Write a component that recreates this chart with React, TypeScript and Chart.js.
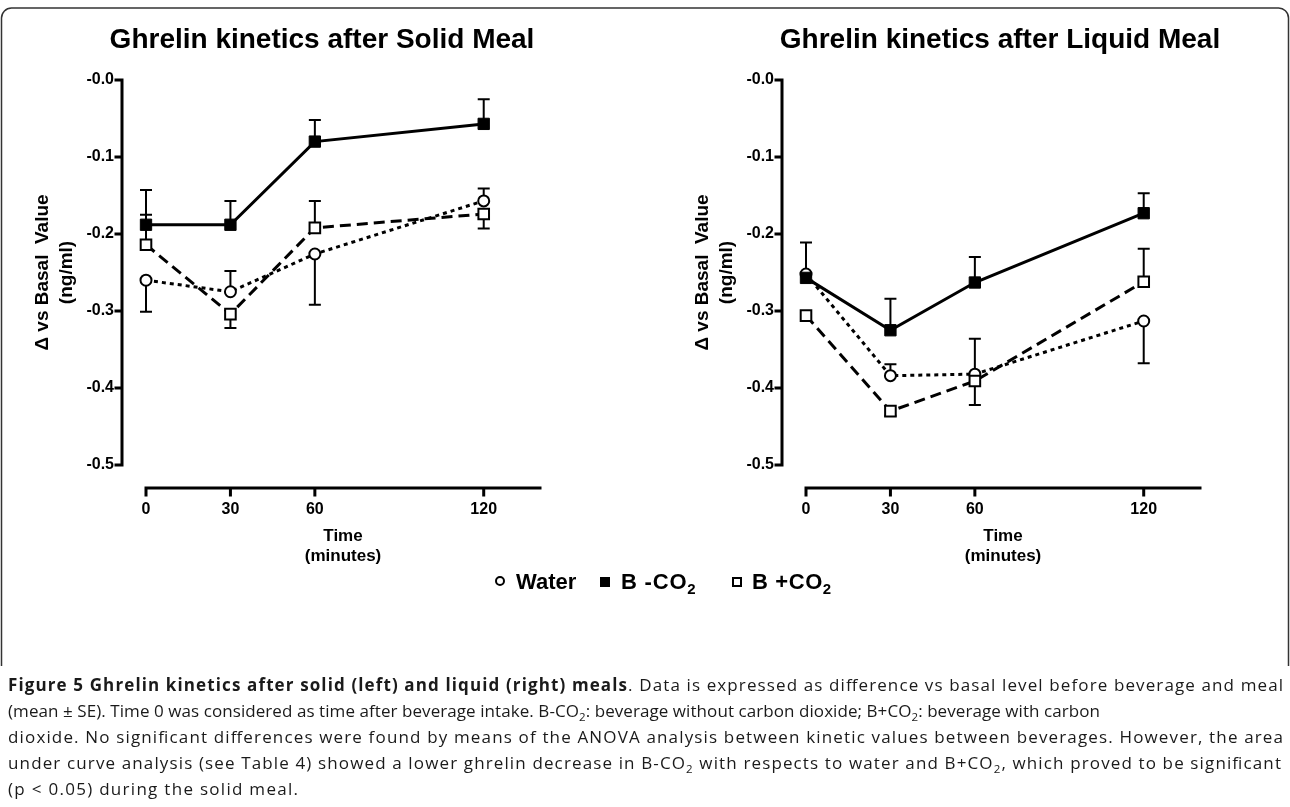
import React, { useEffect, useRef } from "react";
import { Chart, registerables } from "chart.js";

Chart.register(...registerables);

// ---- data ----
const times = [0, 30, 60, 120];
const xTicks = [0, 30, 60, 120];
const yTicks = [0, -0.1, -0.2, -0.3, -0.4, -0.5];

const solidWater = [-0.26, -0.275, -0.226, -0.157];
const solidWaterErr = [-0.301, -0.248, -0.292, -0.141];
const solidBNoCO2 = [-0.188, -0.188, -0.08, -0.057];
const solidBNoCO2Err = [-0.143, -0.157, -0.052, -0.025];
const solidBCO2 = [-0.214, -0.304, -0.192, -0.174];
const solidBCO2Err = [-0.175, -0.322, -0.157, -0.193];

const liquidWater = [-0.252, -0.384, -0.382, -0.313];
const liquidWaterErr = [null, -0.369, -0.336, -0.368];
const liquidBNoCO2 = [-0.257, -0.325, -0.263, -0.173];
const liquidBNoCO2Err = [-0.211, -0.284, -0.23, -0.147];
const liquidBCO2 = [-0.306, -0.43, -0.391, -0.262];
const liquidBCO2Err = [null, -0.436, -0.422, -0.219];

const FONT = "'Liberation Sans', Arial, Helvetica, sans-serif";

type PanelProps = {
  title: string;
  left: number;
  width: number;
  rightSpace: number;
  water: number[];
  waterErr: (number | null)[];
  bno: number[];
  bnoErr: (number | null)[];
  bco: number[];
  bcoErr: (number | null)[];
};

function Panel(props: PanelProps) {
  const ref = useRef<HTMLCanvasElement>(null);
  useEffect(() => {
    const mk = (vals: number[]) => vals.map((v, i) => ({ x: times[i], y: v }));

    const errPlugin = {
      id: "errbars",
      beforeDatasetsDraw(chart: any) {
        const { ctx } = chart;
        const xs = chart.scales.x;
        const ys = chart.scales.y;
        ctx.save();
        ctx.strokeStyle = "#000";
        ctx.lineWidth = 2;
        chart.data.datasets.forEach((ds: any) => {
          (ds.errEnds || []).forEach((e: number | null, i: number) => {
            if (e == null) return;
            const x = xs.getPixelForValue(ds.data[i].x);
            const y0 = ys.getPixelForValue(ds.data[i].y);
            const y1 = ys.getPixelForValue(e);
            ctx.beginPath();
            ctx.moveTo(x, y0);
            ctx.lineTo(x, y1);
            ctx.moveTo(x - 6, y1);
            ctx.lineTo(x + 6, y1);
            ctx.stroke();
          });
        });
        ctx.restore();
      },
    };

    const axesPlugin = {
      id: "prismAxes",
      afterDraw(chart: any) {
        const { ctx, chartArea } = chart;
        const xs = chart.scales.x;
        const ys = chart.scales.y;
        ctx.save();
        ctx.strokeStyle = "#000";
        ctx.lineWidth = 3;
        ctx.lineCap = "square";
        // y axis (detached to the left)
        const ax = chartArea.left - 24;
        ctx.beginPath();
        ctx.moveTo(ax, ys.getPixelForValue(0));
        ctx.lineTo(ax, ys.getPixelForValue(-0.5));
        yTicks.forEach((t) => {
          const y = ys.getPixelForValue(t);
          ctx.moveTo(ax, y);
          ctx.lineTo(ax - 6, y);
        });
        ctx.stroke();
        // x axis (detached below)
        const ay = chartArea.bottom + 23;
        ctx.beginPath();
        ctx.moveTo(xs.getPixelForValue(0), ay);
        ctx.lineTo(xs.getPixelForValue(140), ay);
        xTicks.forEach((t) => {
          const x = xs.getPixelForValue(t);
          ctx.moveTo(x, ay);
          ctx.lineTo(x, ay + 7);
        });
        ctx.stroke();
        ctx.restore();
      },
    };

    const chart = new Chart(ref.current as HTMLCanvasElement, {
      type: "line",
      data: {
        datasets: [
          {
            label: "B -CO2",
            data: mk(props.bno),
            errEnds: props.bnoErr,
            borderColor: "#000",
            borderWidth: 3,
            pointStyle: "rect",
            pointRadius: 8,
            pointBackgroundColor: "#000",
            pointBorderColor: "#000",
            pointBorderWidth: 1,
            clip: false,
          } as any,
          {
            label: "B +CO2",
            data: mk(props.bco),
            errEnds: props.bcoErr,
            borderColor: "#000",
            borderWidth: 3,
            borderDash: [11, 6],
            pointStyle: "rect",
            pointRadius: 7.5,
            pointBackgroundColor: "#fff",
            pointBorderColor: "#000",
            pointBorderWidth: 2,
            clip: false,
          } as any,
          {
            label: "Water",
            data: mk(props.water),
            errEnds: props.waterErr,
            borderColor: "#000",
            borderWidth: 3,
            borderDash: [4, 4],
            pointStyle: "circle",
            pointRadius: 5.5,
            pointBackgroundColor: "#fff",
            pointBorderColor: "#000",
            pointBorderWidth: 2,
            clip: false,
          } as any,
        ],
      },
      options: {
        animation: false,
        responsive: false,
        maintainAspectRatio: false,
        layout: { padding: { left: 0, right: 0, top: 0, bottom: 0 } },
        plugins: {
          legend: { display: false },
          tooltip: { enabled: false },
          title: {
            display: true,
            text: props.title,
            color: "#000",
            font: { family: FONT, size: 28, weight: "bold", lineHeight: 1.2 },
            padding: { top: 23.2, bottom: 23.2 },
          },
        },
        scales: {
          x: {
            type: "linear",
            min: 0,
            max: 140,
            afterBuildTicks: (s: any) => {
              s.ticks = xTicks.map((v) => ({ value: v }));
            },
            afterFit: (s: any) => {
              s.height = 135;
            },
            grid: { display: false, drawTicks: false },
            border: { display: false },
            ticks: {
              padding: 35,
              color: "#000",
              autoSkip: false,
              maxRotation: 0,
              font: { family: FONT, size: 16, weight: "bold" },
              callback: (v: any) => String(v),
            },
            title: {
              display: true,
              text: ["Time", "(minutes)"],
              color: "#000",
              font: { family: FONT, size: 17, weight: "bold", lineHeight: "20px" },
              padding: { top: 0, bottom: 34 },
            },
          },
          y: {
            type: "linear",
            min: -0.5,
            max: 0,
            afterBuildTicks: (s: any) => {
              s.ticks = yTicks.map((v) => ({ value: v }));
            },
            afterFit: (s: any) => {
              s.width = 146;
            },
            grid: { display: false, drawTicks: false },
            border: { display: false },
            ticks: {
              padding: 32,
              color: "#000",
              font: { family: FONT, size: 16, weight: "bold" },
              callback: (v: any) => "-" + Math.abs(Number(v)).toFixed(1),
            },
            title: {
              display: true,
              text: ["\u0394 vs Basal  Value", "(ng/ml)"],
              color: "#000",
              font: { family: FONT, size: 19, weight: "bold", lineHeight: "24px" },
              padding: { top: 31, bottom: 0 },
            },
          },
          // empty spacer on the right so the title centres over the whole graph
          spacer: {
            type: "linear",
            position: "right",
            display: true,
            grid: { display: false, drawTicks: false },
            border: { display: false },
            ticks: { display: false },
            afterFit: (s: any) => {
              s.width = props.rightSpace;
            },
          },
        },
      } as any,
      plugins: [errPlugin, axesPlugin],
    });
    return () => chart.destroy();
  }, []);
  return (
    <canvas
      ref={ref}
      width={props.width}
      height={600}
      style={{ position: "absolute", left: props.left, top: 0, width: props.width, height: 600 }}
    />
  );
}

type Seg = { t: string; sub?: boolean };

function CapLine(props: { y: number; segs: Seg[]; length: number; boldFirst?: boolean }) {
  const style = {
    fontFamily: "'Open Sans', 'Noto Sans', sans-serif",
    fontSize: 17,
    fill: "#1a1a1a",
  };
  const out: React.ReactNode[] = [];
  let shifted = false;
  props.segs.forEach((s, i) => {
    if (s.sub) {
      out.push(
        <tspan key={i} fontSize={11.5} dy={4}>
          {s.t}
        </tspan>
      );
      shifted = true;
    } else {
      out.push(
        <tspan
          key={i}
          dy={shifted ? -4 : undefined}
          fontWeight={props.boldFirst && i === 0 ? "bold" : undefined}
        >
          {s.t}
        </tspan>
      );
      shifted = false;
    }
  });
  return (
    <text x={8} y={props.y} {...style} textLength={props.length} lengthAdjust="spacing">
      {out}
    </text>
  );
}

export default function App() {
  const legendText: React.CSSProperties = {
    position: "absolute",
    top: 569,
    fontFamily: FONT,
    fontWeight: "bold",
    fontSize: 22,
    lineHeight: "26px",
    color: "#000",
    whiteSpace: "nowrap",
  };
  const sub: React.CSSProperties = { fontSize: 15, position: "relative", top: 5 };
  return (
    <div
      style={{
        position: "absolute",
        left: 0,
        top: 0,
        width: 1290,
        height: 807,
        overflow: "hidden",
        background: "#fff",
      }}
    >
      <Panel
        title="Ghrelin kinetics after Solid Meal"
        left={0}
        width={644}
        rightSpace={104}
        water={solidWater}
        waterErr={solidWaterErr}
        bno={solidBNoCO2}
        bnoErr={solidBNoCO2Err}
        bco={solidBCO2}
        bcoErr={solidBCO2Err}
      />
      <Panel
        title="Ghrelin kinetics after Liquid Meal"
        left={660}
        width={680}
        rightSpace={140}
        water={liquidWater}
        waterErr={liquidWaterErr}
        bno={liquidBNoCO2}
        bnoErr={liquidBNoCO2Err}
        bco={liquidBCO2}
        bcoErr={liquidBCO2Err}
      />

      {/* shared legend */}
      <div
        style={{
          position: "absolute",
          left: 495,
          top: 576,
          width: 10,
          height: 10,
          borderRadius: "50%",
          border: "2px solid #000",
          boxSizing: "border-box",
        }}
      />
      <div style={{ ...legendText, left: 516 }}>Water</div>
      <div
        style={{ position: "absolute", left: 600, top: 577, width: 10, height: 10, background: "#000" }}
      />
      <div style={{ ...legendText, left: 621, letterSpacing: 0.8 }}>
        B -CO<span style={sub}>2</span>
      </div>
      <div
        style={{
          position: "absolute",
          left: 732,
          top: 577,
          width: 10,
          height: 10,
          border: "2px solid #000",
          boxSizing: "border-box",
        }}
      />
      <div style={{ ...legendText, left: 752, letterSpacing: 0.6 }}>
        B +CO<span style={sub}>2</span>
      </div>

      {/* border + caption */}
      <svg
        width={1290}
        height={807}
        style={{ position: "absolute", left: 0, top: 0, pointerEvents: "none" }}
      >
        <path
          d="M 1.5 666 L 1.5 18 A 10 10 0 0 1 11.5 8 L 1278 8 A 10 10 0 0 1 1288.5 18 L 1288.5 666"
          fill="none"
          stroke="#333"
          strokeWidth={1.5}
        />
        <CapLine
          y={691}
          length={1275}
          boldFirst
          segs={[
            { t: "Figure 5 Ghrelin kinetics after solid (left) and liquid (right) meals" },
            { t: ". Data is expressed as difference vs basal level before beverage and meal" },
          ]}
        />
        <CapLine
          y={717}
          length={1092}
          segs={[
            { t: "(mean \u00b1 SE). Time 0 was considered as time after beverage intake. B-CO" },
            { t: "2", sub: true },
            { t: ": beverage without carbon dioxide; B+CO" },
            { t: "2", sub: true },
            { t: ": beverage with carbon" },
          ]}
        />
        <CapLine
          y={743}
          length={1275}
          segs={[
            {
              t: "dioxide. No significant differences were found by means of the ANOVA analysis between kinetic values between beverages. However, the area",
            },
          ]}
        />
        <CapLine
          y={769}
          length={1273}
          segs={[
            { t: "under curve analysis (see Table 4) showed a lower ghrelin decrease in B-CO" },
            { t: "2", sub: true },
            { t: " with respects to water and B+CO" },
            { t: "2", sub: true },
            { t: ", which proved to be significant" },
          ]}
        />
        <CapLine y={795} length={290} segs={[{ t: "(p < 0.05) during the solid meal." }]} />
      </svg>
    </div>
  );
}
